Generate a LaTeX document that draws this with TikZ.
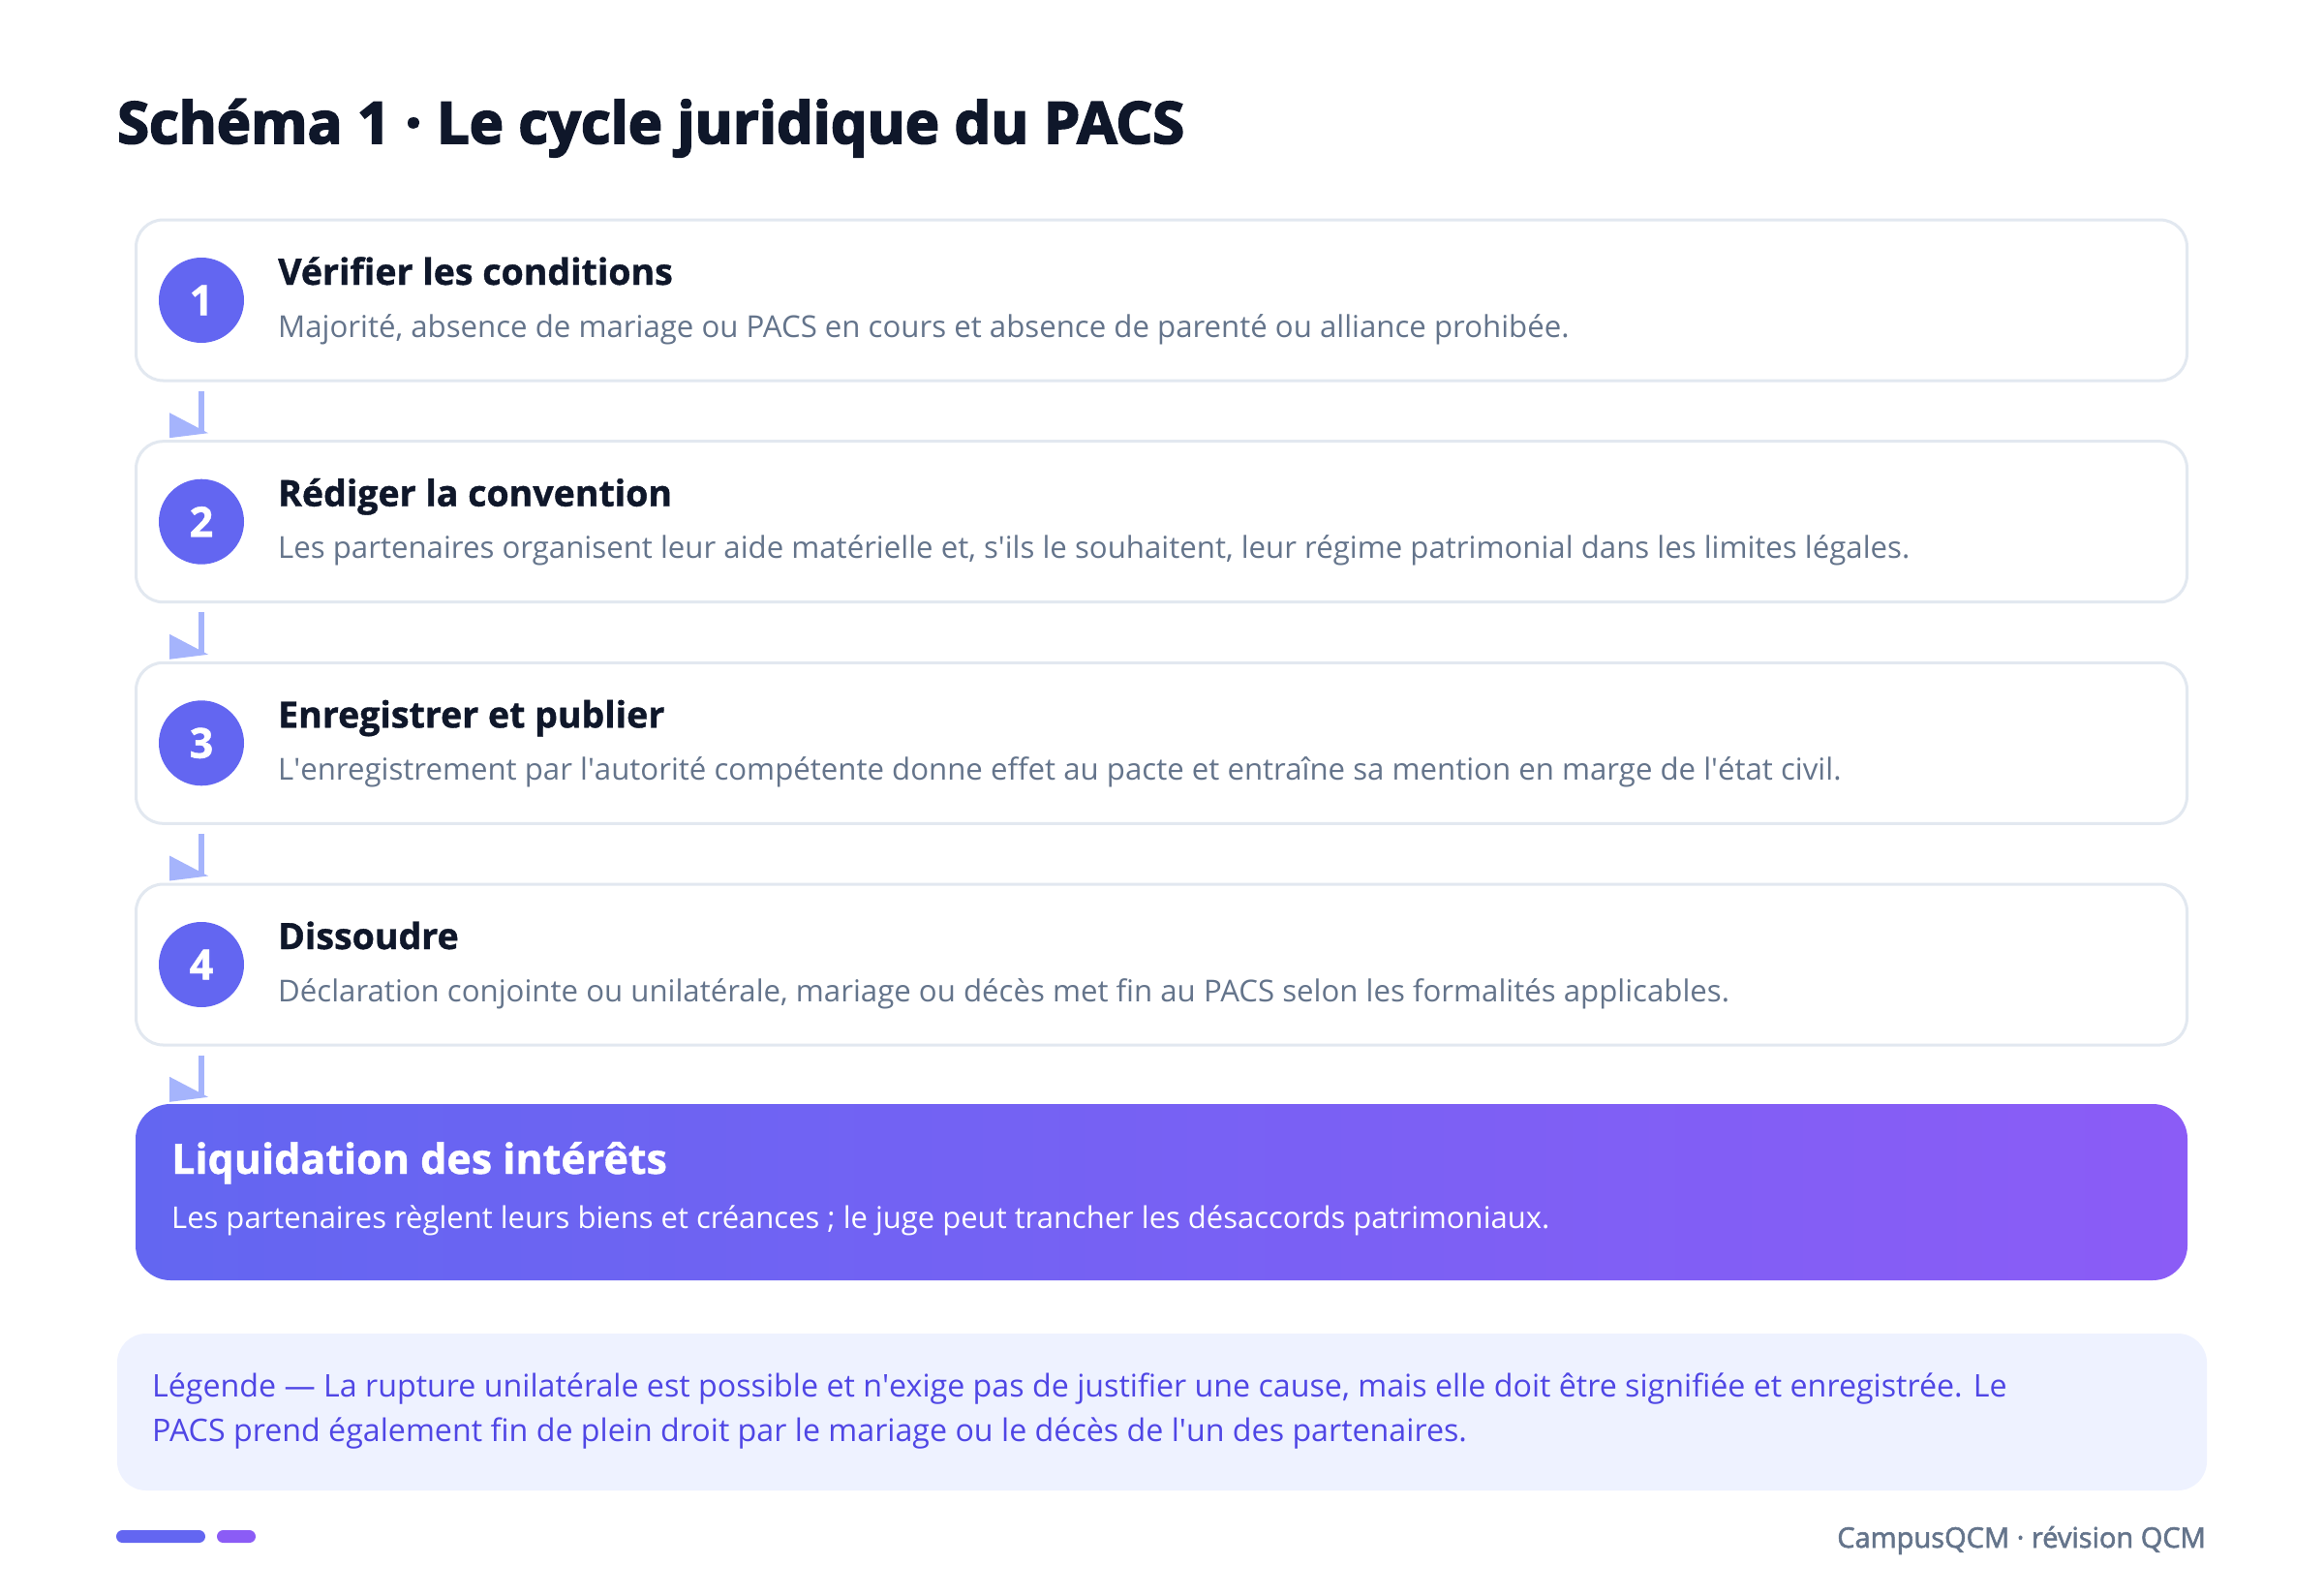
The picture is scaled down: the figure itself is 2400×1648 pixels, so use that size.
\documentclass[tikz,border=0pt]{standalone}
\usepackage{fontspec}
\setmainfont{Open Sans}
\newfontfamily\demigras[FakeBold=2]{Open Sans}
\newfontfamily\gras[FakeBold=1]{Open Sans}
\newfontfamily\noir[FakeBold=3]{Open Sans}
\usetikzlibrary{positioning}
\definecolor{encre}{HTML}{0F172A}
\definecolor{gris}{HTML}{64748B}
\definecolor{bord}{HTML}{E2E8F0}
\definecolor{indigo}{HTML}{6366F1}
\definecolor{violet}{HTML}{8B5CF6}
\definecolor{fleche}{HTML}{A5B4FC}
\definecolor{fondleg}{HTML}{EEF2FF}
\definecolor{texteleg}{HTML}{4F46E5}
\newcommand{\apos}{\textquotesingle}

\begin{document}
\begin{tikzpicture}[x=1pt, y=-1pt,
    card/.style={draw=bord, line width=3pt, fill=white, rounded corners=28pt, minimum width=2118pt, minimum height=166pt},
    num/.style={circle, fill=indigo, text=white, minimum size=88pt, inner sep=0pt, font=\fontsize{43}{43}\gras\bfseries},
    ctitle/.style={anchor=base west, inner sep=0pt, text=encre, font=\fontsize{37.5}{37.5}\gras\bfseries},
    cdesc/.style={anchor=base west, inner sep=0pt, text=gris, font=\fontsize{31.2}{31.2}\selectfont},
    flow/.style={draw=fleche, line width=6pt, shorten <=9pt, shorten >=8pt},
    head/.style={fill=fleche}
]
\useasboundingbox (0,0) rectangle (2400,1648);
\fill[white] (0,0) rectangle (2400,1648);

% Titre
\node[anchor=base west, inner sep=0pt, text=encre, font=\fontsize{59.6}{59.6}\noir\bfseries] (titre) at (121,148) {Schéma 1 · Le cycle juridique du PACS};

% Étapes
\node[card] (c1) at (1199.5,310) {};
\node[card] (c2) at (1199.5,538.7) {};
\node[card] (c3) at (1199.5,767.3) {};
\node[card] (c4) at (1199.5,996) {};

\node[num] (n1) at (208,310) {1};
\node[num] (n2) at (208,538.7) {2};
\node[num] (n3) at (208,767.3) {3};
\node[num] (n4) at (208,996) {4};

\node[ctitle] (t1) at (287,294) {Vérifier les conditions};
\node[cdesc] (d1) at (287,348) {Majorité, absence de mariage ou PACS en cours et absence de parenté ou alliance prohibée.};
\node[ctitle] (t2) at (287,522.7) {Rédiger la convention};
\node[cdesc] (d2) at (287,576.7) {Les partenaires organisent leur aide matérielle et, s\apos ils le souhaitent, leur régime patrimonial dans les limites légales.};
\node[ctitle] (t3) at (287,751.3) {Enregistrer et publier};
\node[cdesc] (d3) at (287,805.3) {L\apos enregistrement par l\apos autorité compétente donne effet au pacte et entraîne sa mention en marge de l\apos état civil.};
\node[ctitle] (t4) at (287,980) {Dissoudre};
\node[cdesc] (d4) at (287,1034) {Déclaration conjointe ou unilatérale, mariage ou décès met fin au PACS selon les formalités applicables.};

% Liquidation
\node[rounded corners=36pt, minimum width=2119pt, minimum height=182pt, left color=indigo, right color=violet] (liq) at (1199.5,1231) {};
\node[anchor=base west, inner sep=0pt, text=white, font=\fontsize{43}{43}\gras\bfseries] (liqt) at (177,1212) {Liquidation des intérêts};
\node[anchor=base west, inner sep=0pt, text=white, font=\fontsize{31}{31}\selectfont] (liqd) at (177,1268) {Les partenaires règlent leurs biens et créances ; le juge peut trancher les désaccords patrimoniaux.};

% Flèches
\draw[flow] (n1 |- c1.south) -- (n1 |- c2.north);
\fill[head] (n1 |- c2.north) ++(-33,-28) -- ++(0,26) -- ++(40,-5) -- cycle;
\draw[flow] (n2 |- c2.south) -- (n2 |- c3.north);
\fill[head] (n2 |- c3.north) ++(-33,-28) -- ++(0,26) -- ++(40,-5) -- cycle;
\draw[flow] (n3 |- c3.south) -- (n3 |- c4.north);
\fill[head] (n3 |- c4.north) ++(-33,-28) -- ++(0,26) -- ++(40,-5) -- cycle;
\draw[flow] (n4 |- c4.south) -- (n4 |- liq.north);
\fill[head] (n4 |- liq.north) ++(-33,-28) -- ++(0,26) -- ++(40,-5) -- cycle;

% Légende
\node[fill=fondleg, rounded corners=30pt, minimum width=2158pt, minimum height=162pt] (leg) at (1200,1458) {};
\node[anchor=base west, inner sep=0pt, text=texteleg, font=\fontsize{32.2}{32.2}\selectfont] (leg1) at (157,1442) {Légende — La rupture unilatérale est possible et n\apos exige pas de justifier une cause, mais elle doit être signifiée et enregistrée. Le};
\node[anchor=base west, inner sep=0pt, text=texteleg, font=\fontsize{32.2}{32.2}\selectfont] (leg2) at (157,1488) {PACS prend également fin de plein droit par le mariage ou le décès de l\apos un des partenaires.};

% Pied de page
\fill[indigo, rounded corners=6.5pt] (120,1580) rectangle (212,1593);
\fill[violet, rounded corners=6.5pt] (224,1580) rectangle (264,1593);
\node[anchor=base east, inner sep=0pt, text=gris, font=\fontsize{29}{29}\demigras] (pied) at (2278,1598) {CampusQCM · révision QCM};
\end{tikzpicture}
\end{document}
